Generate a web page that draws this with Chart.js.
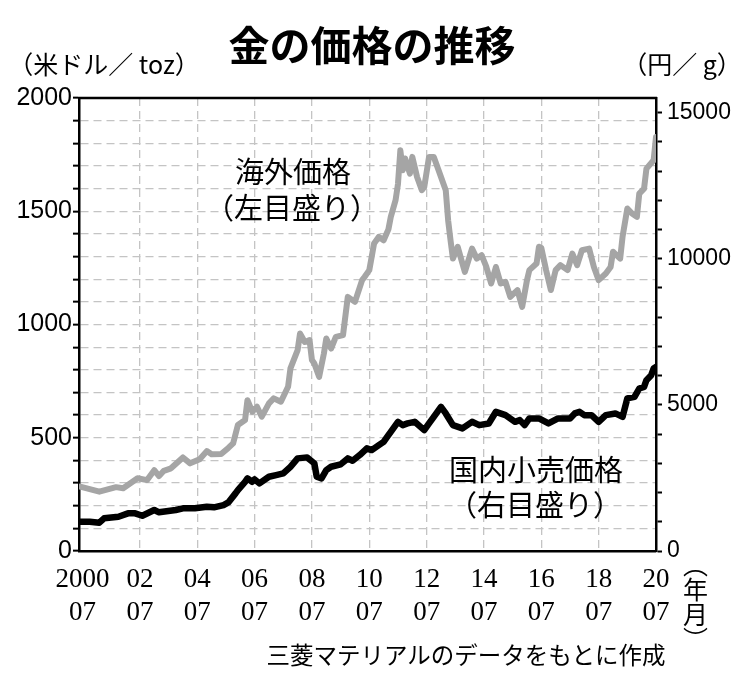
<!DOCTYPE html>
<html lang="ja">
<head>
<meta charset="utf-8">
<title>金の価格の推移</title>
<script src="https://cdn.jsdelivr.net/npm/chart.js@4.4.1/dist/chart.umd.min.js"></script>
<style>
  html, body { margin: 0; padding: 0; background: #fff; }
  #wrap { position: relative; width: 756px; height: 679px; overflow: hidden; }
  #chart { position: absolute; left: 0; top: 0; }
  .t {
    position: absolute;
    white-space: nowrap;
    font-family: "Noto Sans CJK JP", "Noto Sans", sans-serif;
    color: #000;
    line-height: 1;
    transform: translate(-50%, -50%);
  }
</style>
</head>
<body>
<div id="wrap">
  <canvas id="chart" width="756" height="679"></canvas>
  <div class="t" style="left:372px; top:43px; font-size:41px; font-weight:700;">金の価格の推移</div>
  <div class="t" style="left:104px; top:63px; font-size:25px;">（米ドル／ toz）</div>
  <div class="t" style="left:682px; top:63px; font-size:25px;">（円／ g）</div>
  <div class="t" style="left:293px; top:170px; font-size:29px;">海外価格</div>
  <div class="t" style="left:292px; top:206px; font-size:29px;">（左目盛り）</div>
  <div class="t" style="left:536px; top:468px; font-size:29px;">国内小売価格</div>
  <div class="t" style="left:535px; top:503px; font-size:29px;">（右目盛り）</div>
  <div class="t" style="left:466px; top:655px; font-size:23.5px;">三菱マテリアルのデータをもとに作成</div>
  <div class="t" style="left:695px; top:602px; font-size:25px; writing-mode:vertical-rl;">（年月）</div>
</div>
<script>
// 海外価格 (USD/toz, left axis)
const overseasMonths = [
  '2000/06', '2001/02', '2001/09', '2001/12', '2002/06', '2002/10', '2003/01', '2003/03', '2003/05', '2003/08',
  '2004/01', '2004/04', '2004/08', '2004/11', '2005/01', '2005/05', '2005/08', '2005/10', '2005/12', '2006/03',
  '2006/04', '2006/06', '2006/08', '2006/10', '2007/01', '2007/03', '2007/06', '2007/09', '2007/10', '2008/01',
  '2008/02', '2008/04', '2008/06', '2008/07', '2008/08', '2008/10', '2008/12', '2009/01', '2009/03', '2009/05',
  '2009/08', '2009/10', '2010/01', '2010/04', '2010/05', '2010/07', '2010/09', '2010/11', '2011/01', '2011/03',
  '2011/04', '2011/06', '2011/07', '2011/08', '2011/09', '2011/10', '2011/12', '2012/01', '2012/03', '2012/05',
  '2012/06', '2012/08', '2012/10', '2012/12', '2013/03', '2013/04', '2013/05', '2013/06', '2013/08', '2013/11',
  '2014/02', '2014/04', '2014/06', '2014/08', '2014/10', '2014/12', '2015/02', '2015/04', '2015/06', '2015/09',
  '2015/11', '2016/01', '2016/02', '2016/05', '2016/06', '2016/07', '2016/09', '2016/11', '2017/01', '2017/03',
  '2017/06', '2017/08', '2017/10', '2017/12', '2018/03', '2018/05', '2018/07', '2018/10', '2018/12', '2019/01',
  '2019/04', '2019/05', '2019/07', '2019/09', '2019/11', '2019/12', '2020/02', '2020/03', '2020/06', '2020/07'
];
const overseasPrice = [
  284, 262, 282, 277, 321, 313, 357, 331, 354, 365,
  413, 387, 405, 441, 427, 428, 455, 475, 556, 578,
  666, 615, 637, 593, 652, 674, 659, 725, 806, 887,
  960, 923, 931, 843, 828, 769, 872, 938, 894, 945,
  953, 1122, 1100, 1196, 1210, 1240, 1358, 1387, 1372, 1420,
  1475, 1549, 1620, 1769, 1681, 1733, 1666, 1740, 1651, 1593,
  1607, 1740, 1740, 1681, 1593, 1460, 1372, 1291, 1343, 1232,
  1335, 1291, 1306, 1254, 1181, 1254, 1181, 1188, 1122, 1152,
  1078, 1196, 1240, 1269, 1343, 1338, 1240, 1152, 1240, 1262,
  1240, 1313, 1262, 1328, 1335, 1254, 1196, 1225, 1254, 1321,
  1291, 1387, 1512, 1490, 1475, 1578, 1600, 1688, 1725, 1828
];

// 国内小売価格 (円/g, right axis)
const domesticMonths = [
  '2000/06', '2000/10', '2001/02', '2001/04', '2001/10', '2002/02', '2002/05', '2002/08', '2003/01', '2003/03',
  '2003/10', '2004/01', '2004/06', '2004/11', '2005/02', '2005/06', '2005/08', '2005/11', '2005/12', '2006/03',
  '2006/04', '2006/06', '2006/07', '2006/09', '2007/01', '2007/04', '2007/07', '2007/10', '2008/01', '2008/05',
  '2008/08', '2008/09', '2008/11', '2009/01', '2009/03', '2009/07', '2009/10', '2009/12', '2010/03', '2010/06',
  '2010/08', '2010/11', '2011/01', '2011/03', '2011/04', '2011/07', '2011/09', '2011/11', '2012/02', '2012/06',
  '2012/08', '2012/10', '2013/01', '2013/03', '2013/06', '2013/10', '2014/02', '2014/05', '2014/09', '2014/12',
  '2015/04', '2015/08', '2015/10', '2015/12', '2016/02', '2016/06', '2016/10', '2017/02', '2017/07', '2017/09',
  '2017/11', '2018/01', '2018/04', '2018/07', '2018/10', '2019/02', '2019/05', '2019/07', '2019/10', '2019/12',
  '2020/02', '2020/03', '2020/05', '2020/06', '2020/07'
];
const domesticPrice = [
  1002, 1002, 968, 1118, 1173, 1289, 1289, 1207, 1402, 1323,
  1402, 1460, 1460, 1514, 1494, 1572, 1660, 1972, 2085, 2369,
  2485, 2369, 2451, 2314, 2540, 2598, 2656, 2882, 3169, 3203,
  2998, 2540, 2485, 2769, 2882, 2964, 3169, 3087, 3282, 3511,
  3453, 3624, 3736, 3965, 4078, 4420, 4307, 4365, 4420, 4136,
  4365, 4591, 4933, 4707, 4307, 4194, 4420, 4307, 4365, 4762,
  4649, 4420, 4478, 4307, 4536, 4536, 4365, 4536, 4536, 4707,
  4762, 4649, 4649, 4420, 4649, 4707, 4591, 5220, 5275, 5560,
  5617, 5845, 6016, 6245, 6300
];

const xTickMonths = ['2000/07', '2002/07', '2004/07', '2006/07', '2008/07', '2010/07', '2012/07', '2014/07', '2016/07', '2018/07', '2020/07'];
const leftTicks = [0, 500, 1000, 1500, 2000];
const rightTicks = [0, 5000, 10000, 15000];

const monthIndex = (s) => {
  const [y, m] = s.split('/').map(Number);
  return (y - 2000) * 12 + (m - 1);
};

const xLabelOf = {};
xTickMonths.forEach((s, i) => {
  const [y, m] = s.split('/');
  xLabelOf[monthIndex(s)] = [i === 0 ? y : y.slice(2), m];
});

const gridColor = '#c4c4c4';

const topBorder = {
  id: 'topBorder',
  beforeDatasetsDraw(chart) {
    const { ctx, chartArea } = chart;
    ctx.save();
    ctx.strokeStyle = '#000';
    ctx.lineWidth = 2.5;
    ctx.beginPath();
    ctx.moveTo(chartArea.left - 1, chartArea.top);
    ctx.lineTo(chartArea.right + 1, chartArea.top);
    ctx.stroke();
    ctx.restore();
  }
};

new Chart(document.getElementById('chart'), {
  type: 'line',
  data: {
    datasets: [
      {
        data: domesticMonths.map((m, i) => ({ x: monthIndex(m), y: domesticPrice[i] })),
        yAxisID: 'y2',
        borderColor: '#000',
        borderWidth: 6.5,
        pointRadius: 0,
        tension: 0,
        borderJoinStyle: 'round',
        borderCapStyle: 'round'
      },
      {
        data: overseasMonths.map((m, i) => ({ x: monthIndex(m), y: overseasPrice[i] })),
        yAxisID: 'y',
        borderColor: '#a5a5a5',
        borderWidth: 6,
        pointRadius: 0,
        tension: 0,
        borderJoinStyle: 'round',
        borderCapStyle: 'round'
      }
    ]
  },
  options: {
    responsive: false,
    animation: false,
    devicePixelRatio: 1,
    layout: { padding: { top: 98, left: 0, right: 0, bottom: 0 } },
    plugins: { legend: { display: false }, tooltip: { enabled: false } },
    scales: {
      x: {
        type: 'linear',
        min: 4.5,
        max: 246,
        afterBuildTicks: (s) => { s.ticks = xTickMonths.map(m => ({ value: monthIndex(m) })); },
        afterFit: (s) => { s.height = 128; },
        ticks: {
          autoSkip: false,
          maxRotation: 0,
          padding: 13,
          color: '#000',
          font: { family: '"Liberation Serif", serif', size: 27 },
          callback: (v) => xLabelOf[v] || ''
        },
        grid: {
          color: (c) => (c.tick && c.tick.value > 10 && c.tick.value < 240) ? gridColor : 'transparent',
          lineWidth: 1.3,
          drawTicks: false
        },
        border: { color: '#000', width: 2.5, dash: [8, 5] }
      },
      y: {
        position: 'left',
        min: 0,
        max: 2000,
        afterBuildTicks: (s) => {
          const t = [];
          for (let v = 0; v <= 2000; v += 100) t.push({ value: v });
          s.ticks = t;
        },
        afterFit: (s) => { s.width = 79; },
        ticks: {
          autoSkip: false,
          padding: 1,
          color: '#000',
          font: { family: '"Liberation Sans", sans-serif', size: 25 },
          callback: (v) => leftTicks.includes(v) ? String(v) : ''
        },
        grid: {
          color: (c) => (c.tick && c.tick.value > 0 && c.tick.value < 2000) ? gridColor : 'transparent',
          lineWidth: 1.3,
          tickColor: '#000',
          tickLength: 6,
          tickWidth: 2,
          tickBorderDash: []
        },
        border: { color: '#000', width: 2.5, dash: [8, 5] }
      },
      y2: {
        position: 'right',
        min: 0,
        max: 15500,
        afterBuildTicks: (s) => {
          const t = [];
          for (let v = 0; v <= 15000; v += 1000) t.push({ value: v });
          s.ticks = t;
        },
        afterFit: (s) => { s.width = 100; },
        ticks: {
          autoSkip: false,
          padding: 5,
          color: '#000',
          font: { family: '"Liberation Sans", sans-serif', size: 23 },
          callback: (v) => rightTicks.includes(v) ? String(v) : ''
        },
        grid: {
          drawOnChartArea: false,
          tickColor: '#000',
          tickLength: 6,
          tickWidth: 2
        },
        border: { color: '#000', width: 2.5 }
      }
    }
  },
  plugins: [topBorder]
});
</script>
</body>
</html>
